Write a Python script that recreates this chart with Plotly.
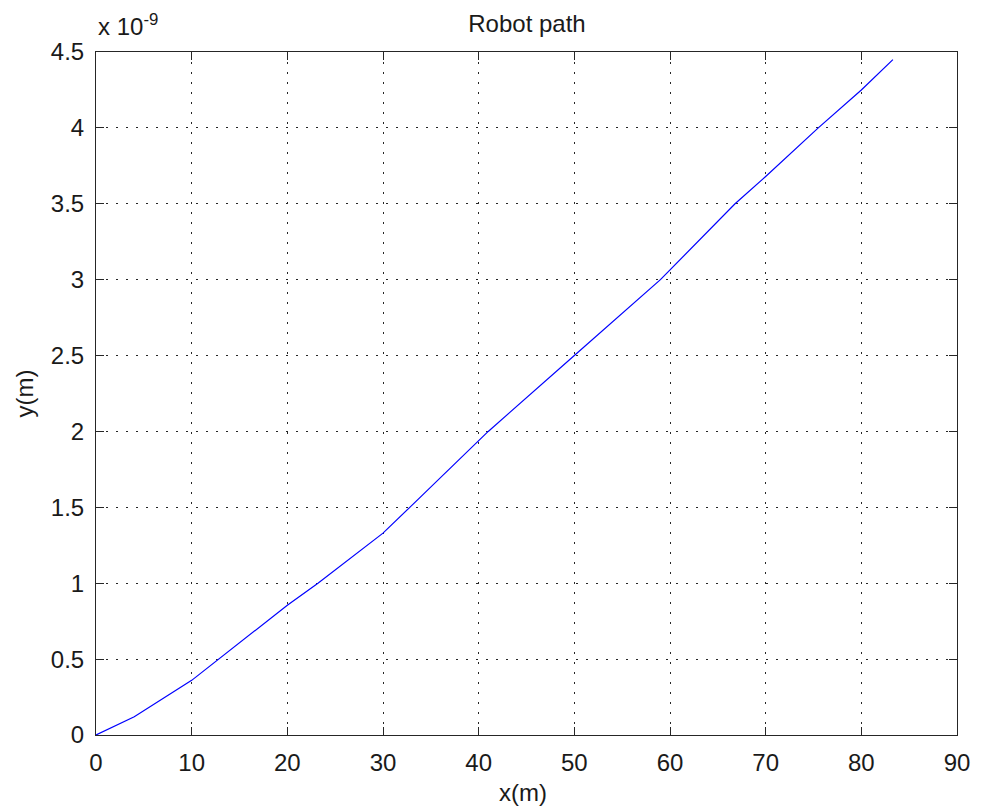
import plotly.graph_objects as go

# Robot path data (x in m, y in units of 1e-9 m)
x_m = [0, 4, 10, 20, 23.2, 30, 32.8, 41, 50, 59, 66.8, 70, 75.5, 80, 83.3]
y_e9 = [0, 0.12, 0.36, 0.855, 1.0, 1.33, 1.5, 2.0, 2.5, 3.0, 3.5, 3.68, 4.0, 4.25, 4.45]
y_scale = 1e-9

x_ticks = [0, 10, 20, 30, 40, 50, 60, 70, 80, 90]
y_ticks = [0, 0.5, 1, 1.5, 2, 2.5, 3, 3.5, 4, 4.5]
y_tick_labels = ["0", "0.5", "1", "1.5", "2", "2.5", "3", "3.5", "4", "4.5"]

FONT = "Liberation Sans, Arial, sans-serif"
FS = 24
TXT = "#1a1a1a"

fig = go.Figure()
fig.add_trace(go.Scatter(
    x=x_m, y=[v * y_scale for v in y_e9], mode="lines",
    line=dict(color="#0000ff", width=1.2), showlegend=False,
))

axis_common = dict(
    showline=True, linecolor="#262626", linewidth=1, mirror="ticks",
    ticks="inside", ticklen=8, tickcolor="#262626", tickwidth=1,
    showgrid=True, gridcolor="#262626", gridwidth=1, griddash="1.5px,8.5px",
    zeroline=False, tickfont=dict(family=FONT, size=FS, color=TXT),
)

fig.update_xaxes(range=[0, 90], tickvals=x_ticks, ticklabelstandoff=6, **axis_common)
fig.update_yaxes(range=[0, 4.5 * y_scale], tickvals=[v * y_scale for v in y_ticks],
                 ticktext=y_tick_labels, ticklabelstandoff=6, **axis_common)

fig.update_layout(
    width=982, height=810,
    margin=dict(l=96, r=17, t=52, b=75),
    paper_bgcolor="white", plot_bgcolor="white",
    font=dict(family=FONT, size=FS, color=TXT),
    title=dict(text="Robot path", x=527 / 982, xanchor="center",
               y=1 - 24 / 810, yanchor="middle", yref="container",
               font=dict(family=FONT, size=FS, color=TXT)),
    annotations=[
        dict(text="x(m)", xref="paper", yref="paper", x=0.496, y=0,
             yshift=-57, xanchor="center", yanchor="middle", showarrow=False,
             font=dict(family=FONT, size=FS, color=TXT)),
        dict(text="y(m)", xref="paper", yref="paper", x=0, y=0.5,
             xshift=-72, xanchor="center", yanchor="middle", textangle=-90,
             showarrow=False, font=dict(family=FONT, size=FS, color=TXT)),
        dict(text="x 10<sup>-9</sup>", xref="paper", yref="paper", x=0, y=1,
             xshift=0, yshift=10, xanchor="left", yanchor="bottom",
             showarrow=False, font=dict(family=FONT, size=FS, color=TXT)),
    ],
)

fig.write_html("out.html")
